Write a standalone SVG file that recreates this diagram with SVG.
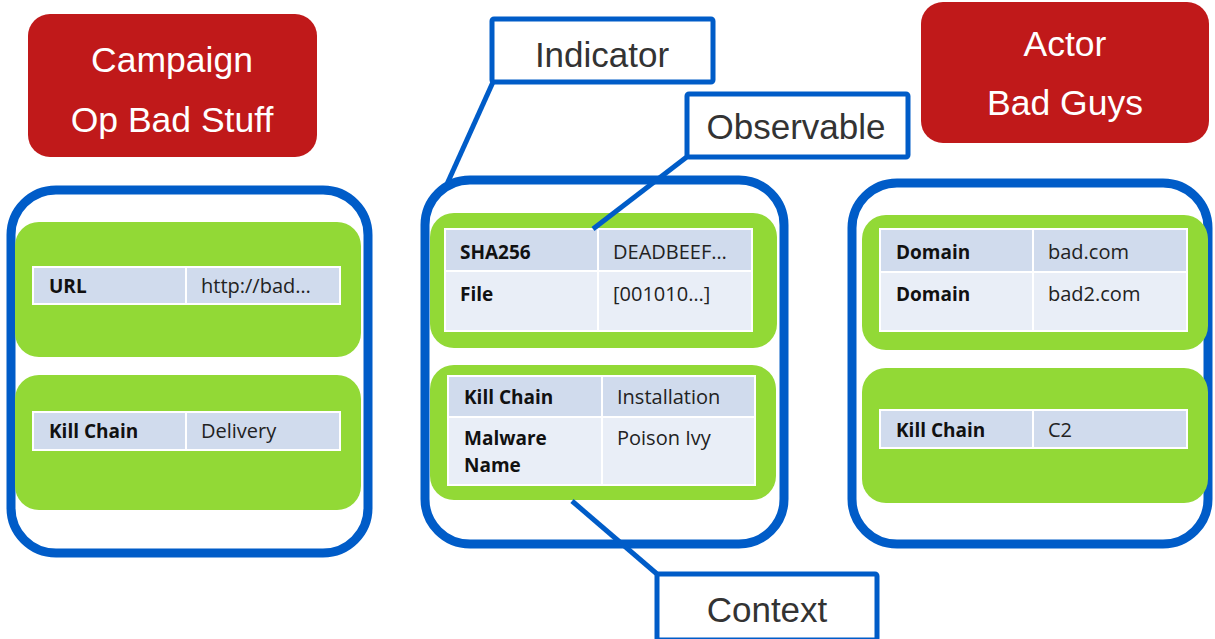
<svg xmlns="http://www.w3.org/2000/svg" width="1215" height="639" viewBox="0 0 1215 639">
  <defs>
    <style>
      .container { fill: #ffffff; stroke: #005CC8; stroke-width: 9; }
      .group { fill: #92D936; }
      .hdr { fill: #D0DBED; stroke: #ffffff; stroke-width: 2; }
      .row { fill: #E9EEF7; stroke: #ffffff; stroke-width: 2; }
      .key { font-family: "Open Sans", "Noto Sans", sans-serif; font-size: 19px; font-weight: bold; fill: #111111; }
      .val { font-family: "Open Sans", "Noto Sans", sans-serif; font-size: 20px; fill: #222222; }
      .object { fill: #C0191A; }
      .object-text { font-family: "Liberation Sans", Arial, sans-serif; font-size: 35.5px; fill: #ffffff; text-anchor: middle; }
      .callout { fill: #ffffff; stroke: #005CC8; stroke-width: 5; }
      .callout-text { font-family: "Liberation Sans", Arial, sans-serif; font-size: 35px; fill: #333333; text-anchor: middle; }
      .link { stroke: #005CC8; stroke-width: 5; fill: none; }
      .pointer { stroke: #005CC8; stroke-width: 5; fill: none; }
    </style>
    <filter id="shadow" x="-20%" y="-200%" width="140%" height="500%">
      <feGaussianBlur in="SourceAlpha" stdDeviation="2"/>
      <feOffset dx="0" dy="3" result="b"/>
      <feComponentTransfer><feFuncA type="linear" slope="0.35"/></feComponentTransfer>
      <feMerge><feMergeNode/><feMergeNode in="SourceGraphic"/></feMerge>
    </filter>
  </defs>

  <!-- links between the three objects -->
  <g id="connectors">
    <line class="link" x1="370" y1="363" x2="425" y2="363" filter="url(#shadow)"/>
    <line class="link" x1="784" y1="363" x2="851" y2="363" filter="url(#shadow)"/>
  </g>

  <!-- Campaign -->
  <g id="campaign">
    <rect class="object" x="28" y="14" width="289" height="143" rx="22"/>
    <text class="object-text" x="172" y="72">Campaign</text>
    <text class="object-text" x="172" y="132">Op Bad Stuff</text>
  </g>

  <g id="campaign-container">
    <rect class="container" x="11" y="190" width="357" height="363" rx="45"/>
    <g id="campaign-url">
      <rect class="group" x="15" y="222" width="346" height="135" rx="24"/>
      <rect class="hdr" x="33" y="267" width="153" height="37"/>
      <rect class="hdr" x="186" y="267" width="154" height="37"/>
      <text class="key" x="49" y="293">URL</text>
      <text class="val" x="201" y="293">http://bad…</text>
    </g>
    <g id="campaign-killchain">
      <rect class="group" x="15" y="375" width="346" height="135" rx="24"/>
      <rect class="hdr" x="33" y="412" width="153" height="38"/>
      <rect class="hdr" x="186" y="412" width="154" height="38"/>
      <text class="key" x="49" y="438">Kill Chain</text>
      <text class="val" x="201" y="438">Delivery</text>
    </g>
  </g>

  <!-- Indicator -->
  <g id="indicator-container">
    <rect class="container" x="425" y="180" width="359" height="364" rx="45"/>
    <g id="observable">
      <rect class="group" x="430" y="213" width="347" height="135" rx="24"/>
      <rect class="hdr" x="445" y="229" width="153" height="42"/>
      <rect class="hdr" x="598" y="229" width="154" height="42"/>
      <rect class="row" x="445" y="271" width="153" height="60"/>
      <rect class="row" x="598" y="271" width="154" height="60"/>
      <text class="key" x="460" y="259">SHA256</text>
      <text class="val" x="613" y="259">DEADBEEF…</text>
      <text class="key" x="460" y="301">File</text>
      <text class="val" x="613" y="301">[001010…]</text>
    </g>
    <g id="context">
      <rect class="group" x="430" y="365" width="346" height="135" rx="24"/>
      <rect class="hdr" x="448" y="376" width="154" height="41"/>
      <rect class="hdr" x="602" y="376" width="153" height="41"/>
      <rect class="row" x="448" y="417" width="154" height="68"/>
      <rect class="row" x="602" y="417" width="153" height="68"/>
      <text class="key" x="464" y="404">Kill Chain</text>
      <text class="val" x="617" y="404">Installation</text>
      <text class="key" x="464" y="445">Malware</text>
      <text class="key" x="464" y="472">Name</text>
      <text class="val" x="617" y="445">Poison Ivy</text>
    </g>
  </g>

  <!-- Actor -->
  <g id="actor">
    <rect class="object" x="921" y="2" width="288" height="141" rx="22"/>
    <text class="object-text" x="1065" y="56">Actor</text>
    <text class="object-text" x="1065" y="115">Bad Guys</text>
  </g>

  <g id="actor-container">
    <rect class="container" x="852" y="183" width="356" height="361" rx="45"/>
    <g id="actor-domains">
      <rect class="group" x="862" y="215" width="346" height="135" rx="24"/>
      <rect class="hdr" x="880" y="229" width="153" height="43"/>
      <rect class="hdr" x="1033" y="229" width="154" height="43"/>
      <rect class="row" x="880" y="272" width="153" height="59"/>
      <rect class="row" x="1033" y="272" width="154" height="59"/>
      <text class="key" x="896" y="259">Domain</text>
      <text class="val" x="1048" y="259">bad.com</text>
      <text class="key" x="896" y="301">Domain</text>
      <text class="val" x="1048" y="301">bad2.com</text>
    </g>
    <g id="actor-killchain">
      <rect class="group" x="862" y="368" width="346" height="135" rx="24"/>
      <rect class="hdr" x="880" y="410" width="153" height="38"/>
      <rect class="hdr" x="1033" y="410" width="154" height="38"/>
      <text class="key" x="896" y="437">Kill Chain</text>
      <text class="val" x="1048" y="437">C2</text>
    </g>
  </g>

  <!-- callout pointers -->
  <g id="pointers">
    <line class="pointer" x1="493" y1="82" x2="447" y2="184"/>
    <line class="pointer" x1="688" y1="156" x2="593" y2="229"/>
    <line class="pointer" x1="572" y1="501" x2="657" y2="574"/>
  </g>

  <!-- callouts -->
  <g id="callout-indicator">
    <rect class="callout" x="492" y="19" width="221" height="63" rx="2"/>
    <text class="callout-text" x="602" y="67">Indicator</text>
  </g>
  <g id="callout-observable">
    <rect class="callout" x="687" y="94" width="221" height="63" rx="2"/>
    <text class="callout-text" x="796" y="139">Observable</text>
  </g>
  <g id="callout-context">
    <rect class="callout" x="657" y="574" width="220" height="66" rx="2"/>
    <text class="callout-text" x="767" y="622">Context</text>
  </g>
</svg>
